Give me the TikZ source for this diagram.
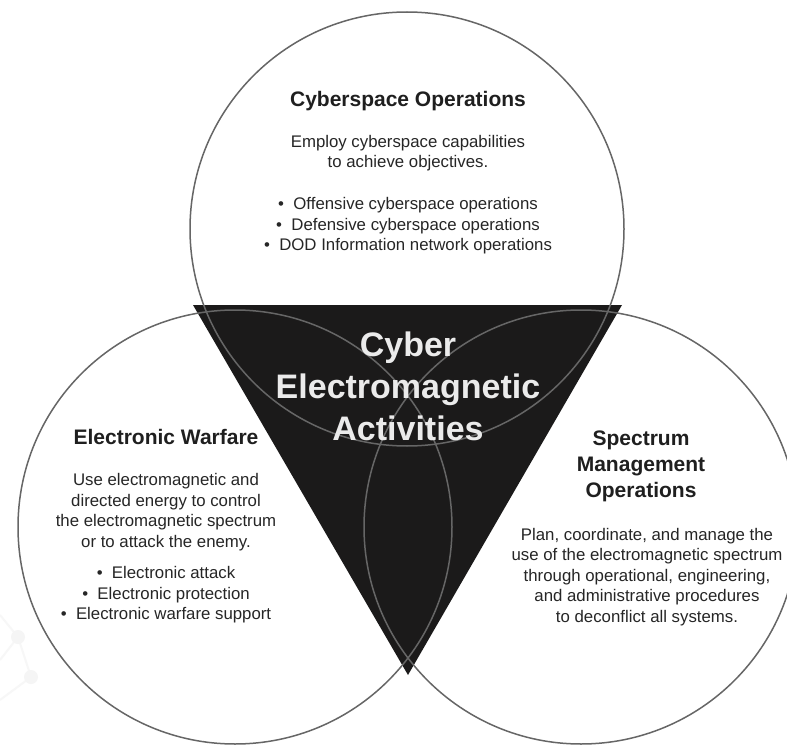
\documentclass[tikz,border=0pt]{standalone}
\usepackage{fontspec}
\setmainfont{Liberation Sans}
\begin{document}
\begin{tikzpicture}[x=1pt,y=-1pt,
  ring/.style={circle,draw=ringgray,line width=1.5pt,minimum size=434pt,inner sep=0pt},
  ttl/.style={font=\fontsize{21}{25}\selectfont\bfseries,text=black!88,align=center,inner sep=0pt},
  body/.style={font=\fontsize{16.8}{20.5}\selectfont,text=black!85,align=center,inner sep=0pt},
  big/.style={font=\fontsize{34}{42}\selectfont\bfseries,text=white!92!black,align=center,inner sep=0pt},
  faint/.style={draw=black!3,line width=2pt}]
\definecolor{ringgray}{HTML}{666666}
\definecolor{tri}{HTML}{1B1A1A}
\useasboundingbox (0,0) rectangle (787,746);
\fill[white] (0,0) rectangle (787,746);
% faint watermark
\coordinate (w1) at (18,637);
\coordinate (w2) at (31,677);
\coordinate (w3) at (0,615);
\coordinate (w4) at (0,660);
\coordinate (w5) at (0,700);
\draw[faint] (w3) -- (w1) -- (w2) -- (w5);
\draw[faint] (w1) -- (w4);
\fill[black!4] (w1) circle (7);
\fill[black!4] (w2) circle (7);
% triangle
\coordinate (ta) at (193,305);
\coordinate (tb) at (622,305);
\coordinate (tc) at (408,675);
\fill[tri] (ta) -- (tb) -- (tc) -- cycle;
% circles
\node[ring] (cyber) at (407,229) {};
\node[ring] (ew) at (235,527) {};
\node[ring] (smo) at (581,527) {};
% top circle text
\node[ttl] (t1) at (408,101) {Cyberspace Operations};
\node[body] (b1) at (408,153) {Employ cyberspace capabilities\\to achieve objectives.};
\node[body] (l1) at (408,226) {•~~Offensive cyberspace operations\\•~~Defensive cyberspace operations\\•~~DOD Information network operations};
% left circle text
\node[ttl] (t2) at (166,437) {Electronic Warfare};
\node[body] (b2) at (166,512) {Use electromagnetic and\\directed energy to control\\the electromagnetic spectrum\\or to attack the enemy.};
\node[body] (l2) at (166,595) {•~~Electronic attack\\•~~Electronic protection\\•~~Electronic warfare support};
% right circle text
\node[ttl,font=\fontsize{21}{26}\selectfont\bfseries] (t3) at (641,466) {Spectrum\\Management\\Operations};
\node[body] (b3) at (647,577) {Plan, coordinate, and manage the\\use of the electromagnetic spectrum\\through operational, engineering,\\and administrative procedures\\to deconflict all systems.};
% center text
\node[big] (c) at (408,386) {Cyber\\Electromagnetic\\Activities};
\end{tikzpicture}
\end{document}
